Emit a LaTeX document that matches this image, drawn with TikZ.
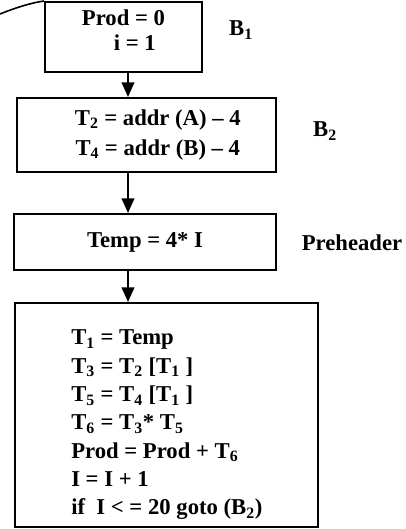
\documentclass[tikz,border=0pt]{standalone}
\usepackage{fontspec}
\setmainfont{Liberation Serif}
\usetikzlibrary{arrows.meta, positioning}
\newcommand{\ix}[1]{\textsubscript{#1}}

\begin{document}
\begin{tikzpicture}[
    x=0.75pt, y=-0.75pt,
    box/.style={rectangle, draw=black, line width=1.5pt, inner sep=0pt, align=center},
    tag/.style={font=\bfseries\fontsize{17}{20}\selectfont},
    flow/.style={-{Triangle[length=11pt, width=9.5pt]}, line width=1.5pt}
]
    \useasboundingbox (0,0) rectangle (405,529);

    % Blocks
    \node[box, minimum width=117.75pt, minimum height=52.5pt, font=\bfseries\fontsize{17}{18.75}\selectfont] (b1) at (123.5,37) {Prod = 0\\ \quad i = 1\\[-8pt]};
    \node[box, minimum width=194.25pt, minimum height=55.5pt, font=\bfseries\fontsize{17}{22.5}\selectfont] (b2) at (146.5,135) {\quad T\ix{2} = addr (A) – 4\\ \quad T\ix{4} = addr (B) – 4};
    \node[box, minimum width=196.5pt, minimum height=42pt, font=\bfseries\fontsize{17}{20}\selectfont] (pre) at (145,242) {Temp = 4* I};
    \node[box, minimum width=227.25pt, minimum height=168pt] (loop) at (166.5,415) {};
    \node[anchor=west, inner sep=0pt, align=left, font=\bfseries\fontsize{17}{21.25}\selectfont] (loopcode) at ([xshift=42.75pt, yshift=-7.5pt]loop.west) {T\ix{1} = Temp\\ T\ix{3} = T\ix{2} [T\ix{1} ]\\ T\ix{5} = T\ix{4} [T\ix{1} ]\\ T\ix{6} = T\ix{3}* T\ix{5}\\ Prod = Prod + T\ix{6}\\ I = I + 1\\ if \ I < = 20 goto (B\ix{2})};

    % Labels
    \node[tag] (b1tag) at (241,30) {B\ix{1}};
    \node[tag] (b2tag) at (325,131) {B\ix{2}};
    \node[tag] (pretag) at (352,243) {Preheader};

    % Arrows
    \coordinate (spine) at (128,0);
    \draw[flow] (b1.south -| spine) -- (b2.north -| spine);
    \draw[flow] (b2.south -| spine) -- (pre.north -| spine);
    \draw[flow] (pre.south -| spine) -- (loop.north -| spine);

    % Back edge (cut off)
    \coordinate (backend) at (0,14);
    \draw[line width=1.2pt] (backend) .. controls (15,8) and (30,3) .. (b1.north west);
\end{tikzpicture}
\end{document}
